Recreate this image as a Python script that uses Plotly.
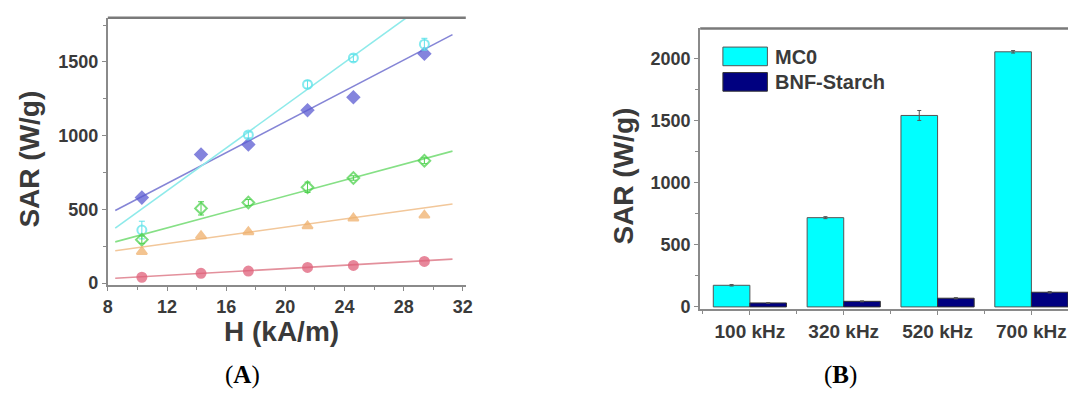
import plotly.graph_objects as go

# --------------------
# Panel A data: SAR vs field amplitude H
# --------------------
h_vals = [10.3, 14.3, 17.5, 21.5, 24.6, 29.4]
sar_purple = [580, 873, 940, 1173, 1260, 1555]
sar_cyan = [360, None, 1005, 1347, 1527, 1620]
sar_green = [295, 507, 547, 650, 713, 830]
sar_orange = [213, 320, 347, 387, 440, 460]
sar_red = [40, 67, 82, 107, 120, 147]

err_cyan = [60, 0, 20, 25, 25, 40]
err_green = [25, 45, 20, 35, 15, 20]

# linear fits (values read at the two ends of each fitted line)
fit_h = [8.5, 31.3]
fit_purple = [493, 1685]
fit_cyan = [373, 2025]
fit_green = [280, 895]
fit_orange = [220, 537]
fit_red = [33, 163]

# --------------------
# Panel B data: SAR vs frequency
# --------------------
freq_labels = ["100 kHz", "320 kHz", "520 kHz", "700 kHz"]
sar_mc0 = [174, 718, 1540, 2052]
err_mc0 = [6, 8, 40, 10]
sar_bnf = [32, 45, 70, 118]
err_bnf = [3, 4, 5, 6]

font_main = "Liberation Sans, Arial, sans-serif"
font_serif = "Liberation Serif, Times New Roman, serif"
axis_grey = "#8a8a8a"
text_col = "#3a3a3a"

fig = go.Figure()

series = [
    (sar_purple, fit_purple, "#5c5cd2", "#8585d6", "diamond", None),
    (sar_cyan, fit_cyan, "#5fe3ea", "#8eeaea", "circle-open", err_cyan),
    (sar_green, fit_green, "#4fd24f", "#86e086", "diamond-open", err_green),
    (sar_orange, fit_orange, "#efb06c", "#f2c79a", "triangle-up", None),
    (sar_red, fit_red, "#e0607a", "#e3909c", "circle", None),
]

for sar, fit, mcol, lcol, sym, err in series:
    fig.add_trace(go.Scatter(
        x=fit_h, y=fit, mode="lines",
        line=dict(color=lcol, width=1.6),
        xaxis="x", yaxis="y", showlegend=False, hoverinfo="skip"
    ))
    fig.add_trace(go.Scatter(
        x=h_vals, y=sar, mode="markers",
        marker=dict(symbol=sym, size=9, color=mcol,
                    line=dict(color=mcol, width=2), opacity=0.75),
        error_y=dict(type="data", array=err, color=mcol, thickness=1, width=3,
                     visible=err is not None),
        xaxis="x", yaxis="y", showlegend=False
    ))

# --------------------
# Panel B bars
# --------------------
xpos = list(range(len(freq_labels)))
bar_styles = [
    ("MC0", sar_mc0, err_mc0, "#00ffff", "#555555"),
    ("BNF-Starch", sar_bnf, err_bnf, "#000080", "#333333"),
]
for name, vals, errs, col, edge in bar_styles:
    fig.add_trace(go.Bar(
        x=xpos, y=vals, name=name, showlegend=False,
        marker=dict(color=col, line=dict(color=edge, width=1)),
        error_y=dict(type="data", array=errs, color="#555555", thickness=1, width=2),
        xaxis="x2", yaxis="y2"
    ))

tick_font = dict(family=font_main, size=18, color=text_col)
title_font = dict(family=font_main, size=28, color=text_col)


def bold(vals):
    return ["<b>%s</b>" % v for v in vals]


def note(text, x, y, font, angle=0, xanchor="center"):
    return dict(text=text, x=x / 1075, y=1 - y / 414, xref="paper", yref="paper",
                xanchor=xanchor, yanchor="middle", textangle=angle,
                showarrow=False, font=font)


# hand-made legend with large swatches, as in the original figure
legend_shapes = []
legend_notes = []
for i, (name, _, _, col, edge) in enumerate(bar_styles):
    top = 48 + i * 26
    legend_shapes.append(dict(
        type="rect", xref="paper", yref="paper",
        x0=726 / 1075, x1=771 / 1075, y0=1 - (top + 19) / 414, y1=1 - top / 414,
        fillcolor=col, line=dict(color=edge, width=1)))
    legend_notes.append(note("<b>%s</b>" % name, 777, top + 10,
                             dict(family=font_main, size=20, color=text_col), xanchor="left"))

# top frame lines of both panels
for xd, top in [((104, 466), 18), ((703, 1075), 29)]:
    legend_shapes.append(dict(
        type="line", xref="paper", yref="paper",
        x0=xd[0] / 1075, x1=xd[1] / 1075, y0=1 - top / 414, y1=1 - top / 414,
        line=dict(color="#7a7a7a", width=2.5)))

panel_font = dict(family=font_serif, size=25, color="black")

fig.update_layout(
    width=1075, height=414,
    margin=dict(l=0, r=0, t=0, b=0),
    paper_bgcolor="white", plot_bgcolor="white",
    barmode="group", bargap=0.22, bargroupgap=0,
    showlegend=False,
    xaxis=dict(
        domain=[104 / 1075, 466 / 1075], range=[8, 32.2],
        tickvals=[8, 12, 16, 20, 24, 28, 32], ticktext=bold([8, 12, 16, 20, 24, 28, 32]),
        ticks="outside", ticklen=4, tickcolor=axis_grey,
        minor=dict(ticks="outside", ticklen=3, dtick=2, tick0=10, tickcolor=axis_grey),
        showline=True, linecolor=axis_grey, linewidth=2,
        showgrid=False, zeroline=False, tickfont=tick_font,
        anchor="y",
    ),
    yaxis=dict(
        domain=[1 - 291 / 414, 1 - 18 / 414], range=[-15, 1800],
        tickvals=[0, 500, 1000, 1500], ticktext=bold([0, 500, 1000, 1500]),
        ticks="outside", ticklen=4, tickcolor=axis_grey,
        minor=dict(ticks="outside", ticklen=3, dtick=250, tick0=0, tickcolor=axis_grey),
        showline=True, linecolor=axis_grey, linewidth=2,
        showgrid=False, zeroline=False, tickfont=tick_font,
        anchor="x",
    ),
    xaxis2=dict(
        domain=[703 / 1075, 1.0], range=[-0.53, 3.39],
        tickvals=xpos, ticktext=bold(freq_labels),
        ticks="outside", ticklen=4, tickcolor=axis_grey,
        minor=dict(ticks="outside", ticklen=3, dtick=1, tick0=0.5, tickcolor=axis_grey),
        showline=True, linecolor=axis_grey, linewidth=2,
        showgrid=False, zeroline=False, tickfont=dict(family=font_main, size=19, color=text_col),
        anchor="y2",
    ),
    yaxis2=dict(
        domain=[1 - 315.5 / 414, 1 - 29 / 414], range=[-20, 2240],
        tickvals=[0, 500, 1000, 1500, 2000], ticktext=bold([0, 500, 1000, 1500, 2000]),
        ticks="outside", ticklen=4, tickcolor=axis_grey,
        minor=dict(ticks="outside", ticklen=3, dtick=250, tick0=0, tickcolor=axis_grey),
        showline=True, linecolor=axis_grey, linewidth=2,
        showgrid=False, zeroline=False, tickfont=tick_font,
        anchor="x2",
    ),
    shapes=legend_shapes,
    annotations=legend_notes + [
        note("<b>SAR (W/g)</b>", 25, 162, title_font, angle=-90),
        note("<b>H (kA/m)</b>", 280, 338, title_font),
        note("<b>SAR (W/g)</b>", 625, 180, title_font, angle=-90),
        note("(<b>A</b>)", 240, 382, panel_font),
        note("(<b>B</b>)", 845, 382, panel_font),
    ],
)

# drop the page's default body margin so the figure sits at the window corner
fig.write_html("out.html", config={"displayModeBar": False},
               post_script="document.body.style.margin='0';")
